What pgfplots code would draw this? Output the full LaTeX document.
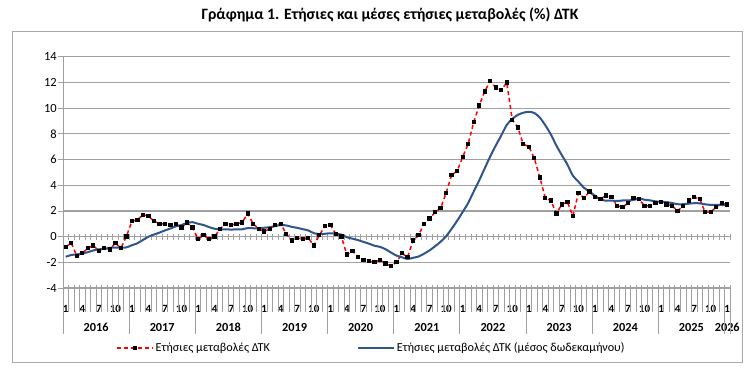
\documentclass[border=0pt]{standalone}
\usepackage{fontspec}
\setmainfont{Carlito}
\usepackage{pgfplots}
\usepackage{pgfplotstable}
\pgfplotsset{compat=1.18}
\definecolor{gridgray}{RGB}{160,160,160}
\definecolor{framegray}{RGB}{170,170,170}
\definecolor{avgblue}{RGB}{47,85,140}
\definecolor{cpired}{RGB}{255,0,0}

\pgfplotstableread{
i red blue
0 -0.8 -1.57
1 -0.5 -1.43
2 -1.5 -1.38
3 -1.3 -1.31
4 -0.9 -1.21
5 -0.7 -1.08
6 -1.1 -0.99
7 -0.9 -0.94
8 -1.0 -0.88
9 -0.5 -0.85
10 -0.9 -0.87
11 0.0 -0.84
12 1.2 -0.67
13 1.3 -0.52
14 1.7 -0.26
15 1.6 -0.01
16 1.2 0.16
17 1.0 0.31
18 1.0 0.48
19 0.9 0.63
20 1.0 0.80
21 0.7 0.90
22 1.1 1.07
23 0.7 1.12
24 -0.2 1.00
25 0.1 0.90
26 -0.2 0.74
27 0.0 0.61
28 0.6 0.56
29 1.0 0.56
30 0.9 0.55
31 1.0 0.56
32 1.1 0.57
33 1.8 0.66
34 1.0 0.65
35 0.6 0.64
36 0.4 0.69
37 0.6 0.73
38 0.9 0.82
39 1.0 0.90
40 0.2 0.87
41 -0.3 0.76
42 -0.1 0.68
43 -0.2 0.58
44 -0.1 0.48
45 -0.7 0.27
46 0.1 0.20
47 0.8 0.22
48 0.9 0.26
49 0.2 0.23
50 0.0 0.15
51 -1.4 -0.05
52 -1.1 -0.16
53 -1.6 -0.27
54 -1.8 -0.41
55 -1.9 -0.55
56 -2.0 -0.71
57 -1.8 -0.80
58 -2.1 -0.98
59 -2.3 -1.24
60 -2.0 -1.48
61 -1.3 -1.61
62 -1.6 -1.74
63 -0.3 -1.65
64 0.1 -1.55
65 1.0 -1.33
66 1.4 -1.07
67 1.9 -0.75
68 2.2 -0.40
69 3.4 0.03
70 4.8 0.61
71 5.1 1.23
72 6.2 1.91
73 7.2 2.62
74 8.9 3.50
75 10.2 4.37
76 11.3 5.31
77 12.1 6.23
78 11.6 7.08
79 11.4 7.87
80 12.0 8.69
81 9.1 9.16
82 8.5 9.47
83 7.2 9.64
84 7.0 9.71
85 6.1 9.62
86 4.6 9.26
87 3.0 8.66
88 2.8 7.95
89 1.8 7.09
90 2.5 6.33
91 2.7 5.61
92 1.6 4.74
93 3.4 4.27
94 3.0 3.81
95 3.5 3.50
96 3.1 3.18
97 2.9 2.91
98 3.2 2.79
99 3.1 2.80
100 2.4 2.77
101 2.3 2.81
102 2.6 2.82
103 3.0 2.85
104 2.9 2.96
105 2.4 2.87
106 2.4 2.82
107 2.6 2.74
108 2.7 2.71
109 2.5 2.68
110 2.4 2.61
111 2.0 2.52
112 2.4 2.52
113 2.8 2.56
114 3.1 2.60
115 2.9 2.59
116 1.9 2.51
117 1.9 2.47
118 2.3 2.46
119 2.6 2.46
120 2.5 2.44
}\cpidata

\begin{document}
\begin{tikzpicture}
\useasboundingbox (0,0) rectangle (752pt,378pt);
\fill[white] (0,0) rectangle (752pt,378pt);
\draw[framegray, line width=1pt] (12pt,16pt) rectangle (742pt,346pt);
\node[font=\bfseries\fontsize{15.8}{18}\selectfont] at (390pt,363pt)
  {Γράφημα 1. Ετήσιες και μέσες ετήσιες μεταβολές (\%) ΔΤΚ};
\begin{axis}[
  at={(63pt,90pt)}, anchor=south west,
  scale only axis, width=667pt, height=231.3pt,
  xmin=0, xmax=121, ymin=-4, ymax=14,
  clip=false,
  axis lines*=left,
  axis line style={gridgray, line width=1pt},
  ymajorgrids, grid style={gridgray, line width=1.2pt},
  ytick={-4,-2,...,14},
  ytick style={gridgray, line width=0.8pt},
  tick align=outside, major tick length=5pt,
  yticklabel style={font=\fontsize{12.5}{14}\selectfont, anchor=east, inner sep=0pt, xshift=-1pt},
  /pgf/number format/assume math mode=true,
  xtick={0.5,3.5,...,120.5},
  xticklabels={1,4,7,10,1,4,7,10,1,4,7,10,1,4,7,10,1,4,7,10,1,4,7,10,1,4,7,10,1,4,7,10,1,4,7,10,1,4,7,10,1},
  xtick style={draw=none},
  xticklabel style={font=\bfseries\fontsize{11}{12}\selectfont, anchor=base, inner sep=0pt, yshift=-19.5pt},
  extra x ticks={6,18,30,42,54,66,78,90,102,114,120.5},
  extra x tick labels={2016,2017,2018,2019,2020,2021,2022,2023,2024,2025,2026},
  extra x tick style={major tick length=0pt, xticklabel style={font=\bfseries\fontsize{12.3}{14}\selectfont, anchor=base, inner sep=0pt, yshift=-24pt}},
  legend columns=2,
  legend style={at={(0.075,-0.2594)}, anchor=west, draw=none, fill=none,
    font=\fontsize{12.2}{14}\selectfont,
    /tikz/every even column/.append style={column sep=85pt}},
  legend image code/.code={\draw[mark repeat=2,mark phase=2,#1] plot coordinates {(0pt,0pt) (18pt,0pt) (36pt,0pt)};},
]
\pgfplotsinvokeforeach{0,...,121}{
  \draw[gridgray, line width=0.8pt] (axis cs:#1,0) ++(0pt,-3pt) -- ++(0pt,6pt);
  \draw[gridgray, line width=0.8pt] (axis cs:#1,-4) ++(0pt,3pt) -- ++(0pt,-27pt);
}
\pgfplotsinvokeforeach{0,12,...,120,121}{
  \draw[gridgray, line width=0.8pt] (axis cs:#1,-4) -- ++(0pt,-46pt);
}
\addplot[cpired, line width=1.5pt, dash pattern=on 4pt off 3pt,
  mark=square*, mark size=1.4pt, mark options={solid, black, fill=black}]
  table[x expr=\thisrow{i}+0.5, y=red] {\cpidata};
\addlegendentry{Ετήσιες μεταβολές ΔΤΚ}
\addplot[avgblue, line width=2pt, smooth, no marks]
  table[x expr=\thisrow{i}+0.5, y=blue] {\cpidata};
\addlegendentry{Ετήσιες μεταβολές ΔΤΚ (μέσος δωδεκαμήνου)}
\end{axis}
\end{tikzpicture}
\end{document}
